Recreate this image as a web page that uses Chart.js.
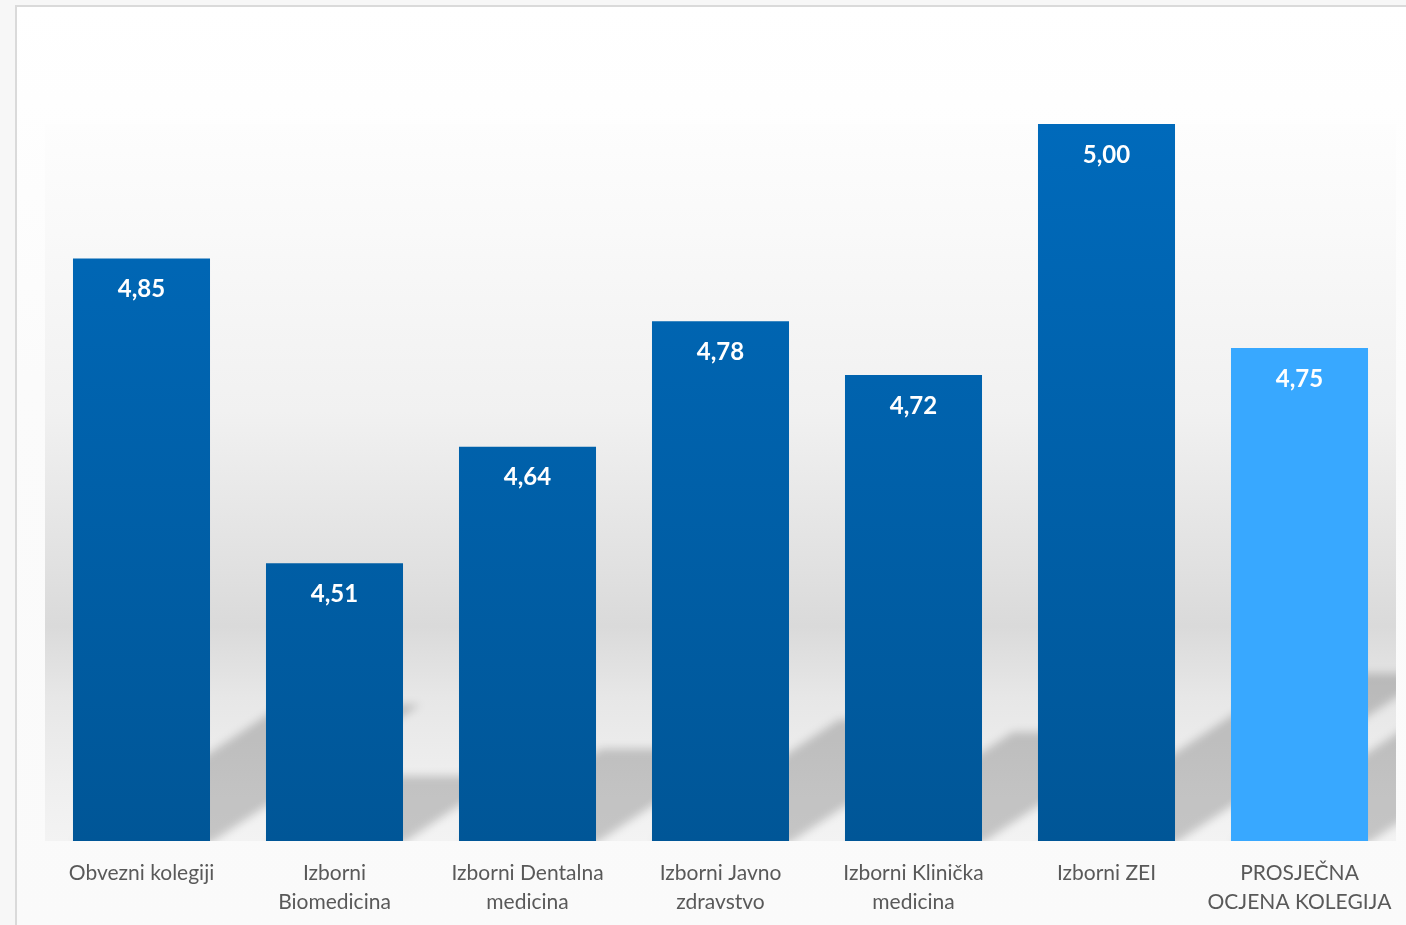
<!DOCTYPE html>
<html>
<head>
<meta charset="utf-8">
<script src="https://cdn.jsdelivr.net/npm/chart.js@4.4.1/dist/chart.umd.min.js"></script>
<style>
  html, body { margin: 0; padding: 0; background: #f7f7f7; overflow: hidden; }
  #frame {
    position: absolute; left: 15px; top: 5px; width: 1400px; height: 930px;
    border-left: 2px solid #dadada; border-top: 2px solid #dadada;
    background: linear-gradient(#ffffff, #fbfbfb 40%, #fafafa);
  }
  #chart { position: absolute; left: 0; top: 0; }
</style>
</head>
<body>
<div id="frame"></div>
<canvas id="chart" width="1406" height="944"></canvas>
<script>
const categories = [
  "Obvezni kolegiji",
  "Izborni Biomedicina",
  "Izborni Dentalna medicina",
  "Izborni Javno zdravstvo",
  "Izborni Klinička medicina",
  "Izborni ZEI",
  "PROSJEČNA OCJENA KOLEGIJA"
];
const tickLabels = [
  "Obvezni kolegiji",
  ["Izborni", "Biomedicina"],
  ["Izborni Dentalna", "medicina"],
  ["Izborni Javno", "zdravstvo"],
  ["Izborni Klinička", "medicina"],
  "Izborni ZEI",
  ["PROSJEČNA", "OCJENA KOLEGIJA"]
];
const ocjene = [4.85, 4.51, 4.64, 4.78, 4.72, 5.00, 4.75];

// plot background (white -> grey band -> light) plus the slanted bar shadows
const plotBackground = {
  id: "plotBackground",
  beforeDatasetsDraw(chart) {
    const { ctx, chartArea: a } = chart;
    const g = ctx.createLinearGradient(0, a.top, 0, a.bottom);
    g.addColorStop(0, "#fdfdfd");
    g.addColorStop(0.15, "#f9f9f9");
    g.addColorStop(0.4, "#f1f1f1");
    g.addColorStop(0.6, "#e2e2e2");
    g.addColorStop(0.7, "#dadada");
    g.addColorStop(0.8, "#e7e7e7");
    g.addColorStop(0.92, "#efefef");
    g.addColorStop(1, "#f3f3f3");
    ctx.save();
    ctx.fillStyle = g;
    ctx.fillRect(a.left, a.top, a.right - a.left, a.bottom - a.top);
    ctx.restore();

    const yScale = chart.scales.y;
    const xScale = chart.scales.x;
    const base = yScale.getPixelForValue(4.2);
    const barW = 137;
    ctx.save();
    ctx.beginPath();
    ctx.rect(a.left, a.top, a.right - a.left, a.bottom - a.top);
    ctx.clip();
    ctx.filter = "blur(4px)";
    ctx.fillStyle = "rgba(0,0,0,0.19)";
    ocjene.forEach((v, i) => {
      const cx = xScale.getPixelForValue(i);
      const left = cx - barW / 2;
      const right = cx + barW / 2;
      const h = base - yScale.getPixelForValue(v);
      const t = h * 0.234;
      const s = t / 0.65;
      ctx.beginPath();
      ctx.moveTo(left, base + 2);
      ctx.lineTo(right, base + 2);
      ctx.lineTo(right + s, base - t);
      ctx.lineTo(left + s, base - t);
      ctx.closePath();
      ctx.fill();
    });
    ctx.restore();
  }
};

// value labels inside the bar tops
const valueLabels = {
  id: "valueLabels",
  afterDatasetsDraw(chart) {
    const { ctx } = chart;
    const bars = chart.getDatasetMeta(0).data;
    ctx.save();
    ctx.fillStyle = "#ffffff";
    ctx.font = "bold 24px Lato, 'Open Sans', sans-serif";
    ctx.textAlign = "center";
    ctx.textBaseline = "middle";
    bars.forEach((b, i) => {
      ctx.fillText(ocjene[i].toFixed(2).replace(".", ","), b.x, b.y + 31);
    });
    ctx.restore();
  }
};

function barColor(context) {
  const chart = context.chart;
  const a = chart.chartArea;
  if (!a) return "#0062ad";
  if (context.dataIndex === ocjene.length - 1) return "#38a8ff";
  const g = chart.ctx.createLinearGradient(0, a.top, 0, a.bottom);
  g.addColorStop(0, "#006abb");
  g.addColorStop(1, "#005697");
  return g;
}

new Chart(document.getElementById("chart"), {
  type: "bar",
  data: {
    labels: tickLabels,
    datasets: [{
      label: "Prosječna ocjena",
      data: ocjene,
      backgroundColor: barColor,
      borderWidth: 0,
      barPercentage: 0.71,
      categoryPercentage: 1
    }]
  },
  options: {
    responsive: false,
    animation: false,
    devicePixelRatio: 1,
    layout: { padding: { left: 45, right: 10, top: 124, bottom: 17 } },
    plugins: {
      legend: { display: false },
      tooltip: { enabled: false }
    },
    scales: {
      y: { display: false, min: 4.2, max: 5.0 },
      x: {
        grid: { display: false },
        border: { display: false },
        ticks: {
          color: "#595959",
          padding: 10,
          maxRotation: 0,
          autoSkip: false,
          font: { family: "Lato, 'Open Sans', sans-serif", size: 21, lineHeight: 1.38 }
        }
      }
    }
  },
  plugins: [plotBackground, valueLabels]
});
</script>
</body>
</html>
